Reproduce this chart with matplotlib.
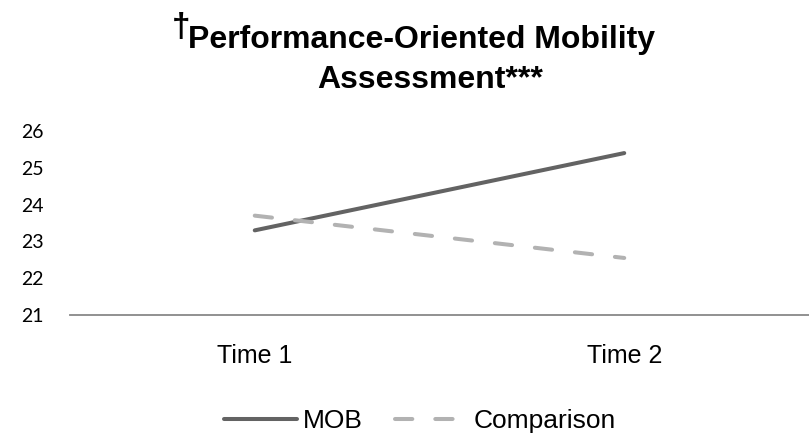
"""Line chart: Performance-Oriented Mobility Assessment, MOB vs comparison."""

import matplotlib

matplotlib.use("Agg")

import matplotlib.pyplot as plt

FIG_W, FIG_H = 809, 438
DPI = 100

categories = ["Time 1", "Time 2"]
mob_values = [23.3, 25.4]
comparison_values = [23.7, 22.55]
y_ticks = [21, 22, 23, 24, 25, 26]

SANS = ["Liberation Sans", "DejaVu Sans"]


def px_x(x):
    return x / FIG_W


def px_y(y):
    return 1 - y / FIG_H


fig = plt.figure(figsize=(FIG_W / DPI, FIG_H / DPI), dpi=DPI)
ax = fig.add_axes([px_x(70), px_y(315), 1 - px_x(70), px_y(131) - px_y(315)])

xs = range(len(categories))
ax.plot(xs, mob_values, color="#636363", lw=2.9, solid_capstyle="round",
        label="MOB")
ax.plot(xs, comparison_values, color="#b2b2b2", lw=2.9, dashes=(4.3, 5.7),
        dash_capstyle="round", label="Comparison")

ax.set_xlim(-0.5, len(categories) - 0.5)
ax.set_ylim(21, 26)
ax.set_yticks(y_ticks)
ax.set_xticks(list(xs))
ax.set_xticklabels(categories, family=SANS, fontsize=18)
ax.set_yticklabels([str(t) for t in y_ticks], family=["Lato", "DejaVu Sans"],
                   fontsize=14)
ax.tick_params(axis="y", length=0, pad=19)
ax.tick_params(axis="x", length=0, pad=21)

for side in ("top", "right", "left"):
    ax.spines[side].set_visible(False)
ax.spines["bottom"].set_color("#888888")
ax.spines["bottom"].set_linewidth(1.3)
ax.spines["bottom"].set_clip_on(False)

# title: dagger is set raised in front of the first line
fig.text(px_x(172), px_y(12), "\u2020", family=SANS, fontsize=24,
         fontweight="bold", ha="left", va="top")
fig.text(px_x(188), px_y(48), "Performance-Oriented Mobility", family=SANS,
         fontsize=23, fontweight="bold", ha="left", va="baseline")
fig.text(px_x(430), px_y(88), "Assessment***", family=SANS,
         fontsize=23, fontweight="bold", ha="center", va="baseline")

fig.legend(loc="center", bbox_to_anchor=(px_x(420), px_y(421)), ncol=2,
           frameon=False, prop={"family": SANS, "size": 19},
           handlelength=2.75, handletextpad=0.25, columnspacing=1.2)

fig.savefig("out.png", dpi=DPI)
